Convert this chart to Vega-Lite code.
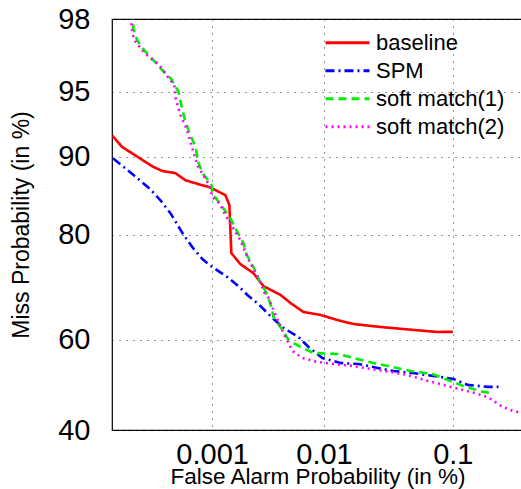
{
  "$schema": "https://vega.github.io/schema/vega-lite/v6.json",
  "autosize": {"type": "none"},
  "padding": {"left": 112, "top": 19, "right": 0, "bottom": 59},
  "width": 411,
  "height": 411,
  "background": "white",
  "config": {
    "font": "Liberation Sans",
    "view": {"stroke": "black", "strokeWidth": 1.2},
    "legend": {
      "orient": "none",
      "legendX": 212,
      "legendY": 9.85,
      "symbolType": "stroke",
      "symbolSize": 1936,
      "symbolStrokeWidth": 3,
      "labelFontSize": 22,
      "labelColor": "black",
      "labelOffset": 5,
      "padding": 0,
      "rowPadding": 0,
      "clipHeight": 27.7
    }
  },
  "data": {
    "values": [
      {"s": "baseline", "i": 1, "fa": 0.000101, "miss": 91.9},
      {"s": "baseline", "i": 2, "fa": 0.000128, "miss": 90.9},
      {"s": "baseline", "i": 3, "fa": 0.000166, "miss": 90.25},
      {"s": "baseline", "i": 4, "fa": 0.000211, "miss": 89.6},
      {"s": "baseline", "i": 5, "fa": 0.00026, "miss": 89.0},
      {"s": "baseline", "i": 6, "fa": 0.000328, "miss": 88.5},
      {"s": "baseline", "i": 7, "fa": 0.000441, "miss": 88.27},
      {"s": "baseline", "i": 8, "fa": 0.000554, "miss": 87.46},
      {"s": "baseline", "i": 9, "fa": 0.000692, "miss": 87.11},
      {"s": "baseline", "i": 10, "fa": 0.000942, "miss": 86.65},
      {"s": "baseline", "i": 11, "fa": 0.001074, "miss": 86.29},
      {"s": "baseline", "i": 12, "fa": 0.001335, "miss": 85.65},
      {"s": "baseline", "i": 13, "fa": 0.001454, "miss": 84.36},
      {"s": "baseline", "i": 14, "fa": 0.001485, "miss": 80.75},
      {"s": "baseline", "i": 15, "fa": 0.001517, "miss": 77.02},
      {"s": "baseline", "i": 16, "fa": 0.001837, "miss": 75.11},
      {"s": "baseline", "i": 17, "fa": 0.002418, "miss": 73.48},
      {"s": "baseline", "i": 18, "fa": 0.00298, "miss": 71.04},
      {"s": "baseline", "i": 19, "fa": 0.00422, "miss": 69.32},
      {"s": "baseline", "i": 20, "fa": 0.00517, "miss": 67.71},
      {"s": "baseline", "i": 21, "fa": 0.00669, "miss": 65.88},
      {"s": "baseline", "i": 22, "fa": 0.00934, "miss": 65.27},
      {"s": "baseline", "i": 23, "fa": 0.01293, "miss": 64.21},
      {"s": "baseline", "i": 24, "fa": 0.01749, "miss": 63.37},
      {"s": "baseline", "i": 25, "fa": 0.02873, "miss": 62.74},
      {"s": "baseline", "i": 26, "fa": 0.0515, "miss": 62.11},
      {"s": "baseline", "i": 27, "fa": 0.0775, "miss": 61.68},
      {"s": "baseline", "i": 28, "fa": 0.1, "miss": 61.7},
      {"s": "SPM", "i": 1, "fa": 0.000103, "miss": 89.8},
      {"s": "SPM", "i": 2, "fa": 0.000138, "miss": 88.8},
      {"s": "SPM", "i": 3, "fa": 0.000183, "miss": 87.7},
      {"s": "SPM", "i": 4, "fa": 0.000248, "miss": 86.4},
      {"s": "SPM", "i": 5, "fa": 0.000313, "miss": 85.0},
      {"s": "SPM", "i": 6, "fa": 0.000394, "miss": 83.25},
      {"s": "SPM", "i": 7, "fa": 0.000517, "miss": 80.3},
      {"s": "SPM", "i": 8, "fa": 0.000647, "miss": 78.0},
      {"s": "SPM", "i": 9, "fa": 0.000808, "miss": 76.0},
      {"s": "SPM", "i": 10, "fa": 0.001006, "miss": 74.57},
      {"s": "SPM", "i": 11, "fa": 0.001393, "miss": 72.75},
      {"s": "SPM", "i": 12, "fa": 0.001799, "miss": 70.85},
      {"s": "SPM", "i": 13, "fa": 0.002132, "miss": 69.32},
      {"s": "SPM", "i": 14, "fa": 0.002741, "miss": 67.3},
      {"s": "SPM", "i": 15, "fa": 0.003587, "miss": 64.63},
      {"s": "SPM", "i": 16, "fa": 0.004488, "miss": 62.53},
      {"s": "SPM", "i": 17, "fa": 0.00606, "miss": 60.6},
      {"s": "SPM", "i": 18, "fa": 0.00739, "miss": 58.43},
      {"s": "SPM", "i": 19, "fa": 0.0097, "miss": 56.0},
      {"s": "SPM", "i": 20, "fa": 0.01369, "miss": 54.89},
      {"s": "SPM", "i": 21, "fa": 0.0192, "miss": 54.67},
      {"s": "SPM", "i": 22, "fa": 0.02722, "miss": 53.78},
      {"s": "SPM", "i": 23, "fa": 0.03627, "miss": 53.11},
      {"s": "SPM", "i": 24, "fa": 0.05061, "miss": 52.67},
      {"s": "SPM", "i": 25, "fa": 0.0725, "miss": 52.0},
      {"s": "SPM", "i": 26, "fa": 0.1011, "miss": 51.33},
      {"s": "SPM", "i": 27, "fa": 0.1271, "miss": 50.0},
      {"s": "SPM", "i": 28, "fa": 0.1746, "miss": 49.55},
      {"s": "SPM", "i": 29, "fa": 0.2071, "miss": 49.55},
      {"s": "soft match(1)", "i": 1, "fa": 0.0001663, "miss": 98.2},
      {"s": "soft match(1)", "i": 2, "fa": 0.0001663, "miss": 97.74},
      {"s": "soft match(1)", "i": 3, "fa": 0.0001828, "miss": 97.34},
      {"s": "soft match(1)", "i": 4, "fa": 0.0002157, "miss": 96.98},
      {"s": "soft match(1)", "i": 5, "fa": 0.000266, "miss": 96.58},
      {"s": "soft match(1)", "i": 6, "fa": 0.0003281, "miss": 96.13},
      {"s": "soft match(1)", "i": 7, "fa": 0.0004029, "miss": 95.69},
      {"s": "soft match(1)", "i": 8, "fa": 0.0004722, "miss": 95.02},
      {"s": "soft match(1)", "i": 9, "fa": 0.0005058, "miss": 94.17},
      {"s": "soft match(1)", "i": 10, "fa": 0.0005413, "miss": 93.3},
      {"s": "soft match(1)", "i": 11, "fa": 0.000605, "miss": 92.12},
      {"s": "soft match(1)", "i": 12, "fa": 0.0006915, "miss": 90.98},
      {"s": "soft match(1)", "i": 13, "fa": 0.000739, "miss": 89.43},
      {"s": "soft match(1)", "i": 14, "fa": 0.000808, "miss": 88.27},
      {"s": "soft match(1)", "i": 15, "fa": 0.000984, "miss": 87.0},
      {"s": "soft match(1)", "i": 16, "fa": 0.001006, "miss": 85.9},
      {"s": "soft match(1)", "i": 17, "fa": 0.001251, "miss": 84.1},
      {"s": "soft match(1)", "i": 18, "fa": 0.001485, "miss": 82.53},
      {"s": "soft match(1)", "i": 19, "fa": 0.001688, "miss": 80.75},
      {"s": "soft match(1)", "i": 20, "fa": 0.001959, "miss": 78.71},
      {"s": "soft match(1)", "i": 21, "fa": 0.002088, "miss": 76.85},
      {"s": "soft match(1)", "i": 22, "fa": 0.002418, "miss": 74.57},
      {"s": "soft match(1)", "i": 23, "fa": 0.002741, "miss": 72.19},
      {"s": "soft match(1)", "i": 24, "fa": 0.003167, "miss": 69.7},
      {"s": "soft match(1)", "i": 25, "fa": 0.003515, "miss": 66.9},
      {"s": "soft match(1)", "i": 26, "fa": 0.00366, "miss": 64.84},
      {"s": "soft match(1)", "i": 27, "fa": 0.004397, "miss": 62.11},
      {"s": "soft match(1)", "i": 28, "fa": 0.004966, "miss": 59.95},
      {"s": "soft match(1)", "i": 29, "fa": 0.006305, "miss": 58.43},
      {"s": "soft match(1)", "i": 30, "fa": 0.008147, "miss": 57.11},
      {"s": "soft match(1)", "i": 31, "fa": 0.01318, "miss": 56.89},
      {"s": "soft match(1)", "i": 32, "fa": 0.01884, "miss": 55.78},
      {"s": "soft match(1)", "i": 33, "fa": 0.02532, "miss": 54.89},
      {"s": "soft match(1)", "i": 34, "fa": 0.03565, "miss": 54.0},
      {"s": "soft match(1)", "i": 35, "fa": 0.0489, "miss": 53.11},
      {"s": "soft match(1)", "i": 36, "fa": 0.0713, "miss": 52.45},
      {"s": "soft match(1)", "i": 37, "fa": 0.0916, "miss": 51.11},
      {"s": "soft match(1)", "i": 38, "fa": 0.123, "miss": 49.55},
      {"s": "soft match(1)", "i": 39, "fa": 0.1639, "miss": 48.43},
      {"s": "soft match(1)", "i": 40, "fa": 0.1802, "miss": 48.21},
      {"s": "soft match(2)", "i": 1, "fa": 0.000155, "miss": 98.2},
      {"s": "soft match(2)", "i": 2, "fa": 0.0001624, "miss": 97.57},
      {"s": "soft match(2)", "i": 3, "fa": 0.0001744, "miss": 97.31},
      {"s": "soft match(2)", "i": 4, "fa": 0.0002058, "miss": 96.98},
      {"s": "soft match(2)", "i": 5, "fa": 0.0002313, "miss": 96.78},
      {"s": "soft match(2)", "i": 6, "fa": 0.0003058, "miss": 96.37},
      {"s": "soft match(2)", "i": 7, "fa": 0.0003678, "miss": 95.83},
      {"s": "soft match(2)", "i": 8, "fa": 0.0004312, "miss": 95.37},
      {"s": "soft match(2)", "i": 9, "fa": 0.0004412, "miss": 94.68},
      {"s": "soft match(2)", "i": 10, "fa": 0.0004943, "miss": 93.5},
      {"s": "soft match(2)", "i": 11, "fa": 0.0005658, "miss": 92.51},
      {"s": "soft match(2)", "i": 12, "fa": 0.0006467, "miss": 90.8},
      {"s": "soft match(2)", "i": 13, "fa": 0.0007228, "miss": 89.12},
      {"s": "soft match(2)", "i": 14, "fa": 0.000942, "miss": 86.88},
      {"s": "soft match(2)", "i": 15, "fa": 0.001006, "miss": 85.39},
      {"s": "soft match(2)", "i": 16, "fa": 0.001171, "miss": 84.62},
      {"s": "soft match(2)", "i": 17, "fa": 0.001335, "miss": 82.96},
      {"s": "soft match(2)", "i": 18, "fa": 0.001617, "miss": 80.75},
      {"s": "soft match(2)", "i": 19, "fa": 0.001837, "miss": 79.18},
      {"s": "soft match(2)", "i": 20, "fa": 0.002132, "miss": 76.34},
      {"s": "soft match(2)", "i": 21, "fa": 0.002367, "miss": 74.57},
      {"s": "soft match(2)", "i": 22, "fa": 0.002741, "miss": 72.19},
      {"s": "soft match(2)", "i": 23, "fa": 0.003043, "miss": 69.7},
      {"s": "soft match(2)", "i": 24, "fa": 0.003306, "miss": 68.72},
      {"s": "soft match(2)", "i": 25, "fa": 0.00366, "miss": 66.29},
      {"s": "soft match(2)", "i": 26, "fa": 0.004053, "miss": 63.79},
      {"s": "soft match(2)", "i": 27, "fa": 0.004675, "miss": 60.6},
      {"s": "soft match(2)", "i": 28, "fa": 0.005377, "miss": 57.55},
      {"s": "soft match(2)", "i": 29, "fa": 0.006563, "miss": 56.0},
      {"s": "soft match(2)", "i": 30, "fa": 0.00881, "miss": 55.11},
      {"s": "soft match(2)", "i": 31, "fa": 0.01199, "miss": 54.67},
      {"s": "soft match(2)", "i": 32, "fa": 0.01749, "miss": 54.22},
      {"s": "soft match(2)", "i": 33, "fa": 0.02399, "miss": 53.56},
      {"s": "soft match(2)", "i": 34, "fa": 0.03441, "miss": 52.89},
      {"s": "soft match(2)", "i": 35, "fa": 0.04642, "miss": 52.22},
      {"s": "soft match(2)", "i": 36, "fa": 0.0655, "miss": 50.89},
      {"s": "soft match(2)", "i": 37, "fa": 0.0916, "miss": 49.78},
      {"s": "soft match(2)", "i": 38, "fa": 0.1335, "miss": 48.43},
      {"s": "soft match(2)", "i": 39, "fa": 0.1746, "miss": 47.32},
      {"s": "soft match(2)", "i": 40, "fa": 0.2203, "miss": 45.09},
      {"s": "soft match(2)", "i": 41, "fa": 0.2566, "miss": 44.2},
      {"s": "soft match(2)", "i": 42, "fa": 0.2935, "miss": 43.76}
    ]
  },
  "transform": [
    {"calculate": "quantileNormal(datum.fa / 100)", "as": "zx"},
    {"calculate": "quantileNormal(datum.miss / 100)", "as": "zy"}
  ],
  "mark": {"type": "line", "clip": true},
  "encoding": {
    "x": {
      "field": "zx",
      "type": "quantitative",
      "scale": {"domain": [-4.7534, -2.7478], "nice": false, "zero": false},
      "axis": {
        "values": [-4.2649, -3.719, -3.0902],
        "labelExpr": "datum.value < -4 ? '0.001' : datum.value < -3.4 ? '0.01' : '0.1'",
        "title": "False Alarm Probability (in %)",
        "domain": false,
        "ticks": false,
        "grid": true,
        "gridDash": [1, 6],
        "gridColor": "#333",
        "gridOpacity": 1,
        "labelFontSize": 29,
        "labelColor": "black",
        "labelPadding": 10,
        "labelFlush": false,
        "titleFontSize": 22.5,
        "titleFontWeight": "normal",
        "titleColor": "black",
        "titleBaseline": "alphabetic",
        "titleY": 53
      }
    },
    "y": {
      "field": "zy",
      "type": "quantitative",
      "scale": {"domain": [-0.2533, 2.0537], "nice": false, "zero": false},
      "axis": {
        "values": [-0.2533, 0.2533, 0.8416, 1.2816, 1.6449, 2.0537],
        "labelExpr": "format(cumulativeNormal(datum.value) * 100, '.0f')",
        "title": "Miss Probability (in %)",
        "domain": false,
        "ticks": false,
        "grid": true,
        "gridDash": [1, 6],
        "gridColor": "#333",
        "gridOpacity": 1,
        "labelFontSize": 29,
        "labelColor": "black",
        "labelPadding": 22,
        "labelOverlap": false,
        "titleFontSize": 23,
        "titleFontWeight": "normal",
        "titleColor": "black",
        "titleAngle": -90,
        "titleBaseline": "alphabetic",
        "titleAlign": "center",
        "titleX": -84,
        "titleY": 205.5
      }
    },
    "color": {
      "field": "s",
      "type": "nominal",
      "scale": {
        "domain": ["baseline", "SPM", "soft match(1)", "soft match(2)"],
        "range": ["#ff0000", "#0000ff", "#00ee00", "#ff00ff"]
      },
      "legend": {"title": null}
    },
    "strokeDash": {
      "field": "s",
      "type": "nominal",
      "scale": {
        "domain": ["baseline", "SPM", "soft match(1)", "soft match(2)"],
        "range": [[1, 0], [9, 4, 2, 4], [8, 5], [2, 4]]
      },
      "legend": {"title": null}
    },
    "strokeWidth": {"value": 2.6},
    "order": {"field": "i", "type": "quantitative"}
  }
}
